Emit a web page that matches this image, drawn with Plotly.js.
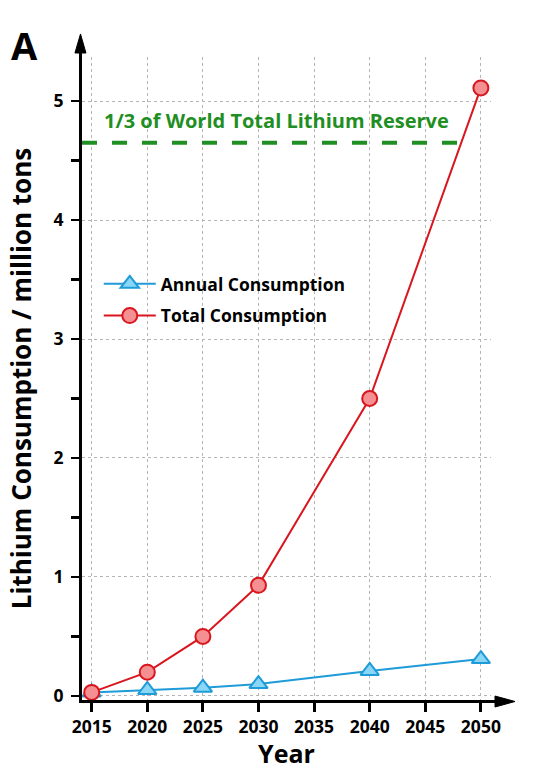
<!DOCTYPE html>
<html>
<head>
<meta charset="utf-8">
<script src="https://cdn.plot.ly/plotly-3.0.1.min.js"></script>
<style>html,body{margin:0;padding:0;background:#fff;}#chart{width:548px;height:770px;}</style>
</head>
<body>
<div id="chart"></div>
<script>
// ---- data ----
const years = [2015, 2020, 2025, 2030, 2040, 2050];
const annualConsumption = [0.03, 0.05, 0.07, 0.10, 0.21, 0.31];
const totalConsumption = [0.03, 0.20, 0.50, 0.93, 2.50, 5.11];
const reserveYears = [2014.13, 2048.3];
const reserveLevel = [4.65, 4.65];
const reserveLabel = "1/3 of World Total Lithium Reserve";
const xTickVals = [2015, 2020, 2025, 2030, 2035, 2040, 2045, 2050];
const yTickVals = [0, 1, 2, 3, 4, 5];

const FONT = "'Open Sans', Lato, sans-serif";
const RED = "#d9161e", RED_FILL = "#f48f92";
const BLUE = "#1e9bd8", BLUE_FILL = "#8ad6f6";
const GREEN = "#1f8f24";

const traces = [
  {
    x: years, y: annualConsumption, name: "Annual Consumption",
    mode: "lines+markers", legendgroup: "a",
    line: {color: BLUE, width: 2},
    marker: {symbol: "triangle-up", size: 16, color: BLUE_FILL, line: {color: BLUE, width: 2}},
    cliponaxis: false
  },
  {
    x: years, y: totalConsumption, name: "Total Consumption",
    mode: "lines+markers", legendgroup: "b",
    line: {color: RED, width: 2},
    marker: {symbol: "circle", size: 15, color: RED_FILL, line: {color: RED, width: 2}},
    cliponaxis: false
  },
  {
    x: reserveYears, y: reserveLevel, mode: "lines", showlegend: false, hoverinfo: "skip",
    line: {color: GREEN, width: 4, dash: "15px,15px"}
  }
];

const layout = {
  width: 548, height: 770,
  margin: {l: 82, r: 57, t: 57, b: 70},
  paper_bgcolor: "#fff", plot_bgcolor: "#fff",
  font: {family: FONT, color: "#000", size: 17, weight: "bold"},
  showlegend: true,
  legend: {
    x: 0.041, y: 0.675, xanchor: "left", yanchor: "top",
    bgcolor: "rgba(0,0,0,0)", borderwidth: 0,
    traceorder: "grouped", tracegroupgap: 6, itemwidth: 52,
    font: {family: FONT, size: 17.5, color: "#000", weight: "bold"}
  },
  xaxis: {
    range: [2014.128, 2050.91],
    tickvals: xTickVals, ticktext: xTickVals.map(String),
    ticks: "outside", ticklen: 9, tickwidth: 3, tickcolor: "#000",
    showline: true, linecolor: "#000", linewidth: 3,
    showgrid: true, gridcolor: "#b5b5b5", gridwidth: 1, griddash: "3px,3px",
    zeroline: false,
    tickfont: {family: FONT, size: 17.5, color: "#000", weight: "bold"},
    title: {text: "Year", font: {family: FONT, size: 25, color: "#000", weight: "bold"}, standoff: 14},
    fixedrange: true
  },
  yaxis: {
    range: [-0.034, 5.37],
    tickvals: yTickVals, ticktext: yTickVals.map(String),
    ticks: "outside", ticklen: 8, tickwidth: 2.5, tickcolor: "#000",
    minor: {dtick: 0.5, tick0: 0, ticks: "outside", ticklen: 8, tickwidth: 2.5, tickcolor: "#000", showgrid: false},
    showline: true, linecolor: "#000", linewidth: 3,
    showgrid: true, gridcolor: "#b5b5b5", gridwidth: 1, griddash: "3px,3px",
    zeroline: false,
    tickfont: {family: FONT, size: 17.5, color: "#000", weight: "bold"},
    ticklabelstandoff: 4,
    title: {text: "Lithium Consumption / million tons", font: {family: FONT, size: 26, color: "#000", weight: "bold"}, standoff: 15},
    fixedrange: true
  },
  shapes: [
    // y-axis arrow
    {type: "line", xref: "paper", yref: "paper", x0: -0.0037, x1: -0.0037, y0: 0.99, y1: 1.015, line: {color: "#000", width: 3}},
    {type: "path", xref: "paper", yref: "paper",
     path: "M -0.0172 1.0062 L 0.0097 1.0062 L -0.0037 1.0358 Z", fillcolor: "#000", line: {color: "#000", width: 1}},
    // x-axis arrow
    {type: "line", xref: "paper", yref: "paper", x0: 0.99, x1: 1.02, y0: -0.00233, y1: -0.00233, line: {color: "#000", width: 3}},
    {type: "path", xref: "paper", yref: "paper",
     path: "M 1.0098 0.0062 L 1.0098 -0.0109 L 1.0587 -0.00233 Z", fillcolor: "#000", line: {color: "#000", width: 1}}
  ],
  annotations: [
    {text: reserveLabel, x: 2031.66, y: 4.84, xref: "x", yref: "y", showarrow: false,
     xanchor: "center", yanchor: "middle",
     font: {family: FONT, size: 20, color: GREEN, weight: "bold"}},
    {text: "A", xref: "paper", yref: "paper", x: -0.178, y: 1.0187, xanchor: "left", yanchor: "middle",
     showarrow: false, font: {family: FONT, size: 38, color: "#000", weight: "bold"}}
  ]
};

Plotly.newPlot("chart", traces, layout, {displayModeBar: false, staticPlot: true});
</script>
</body>
</html>
